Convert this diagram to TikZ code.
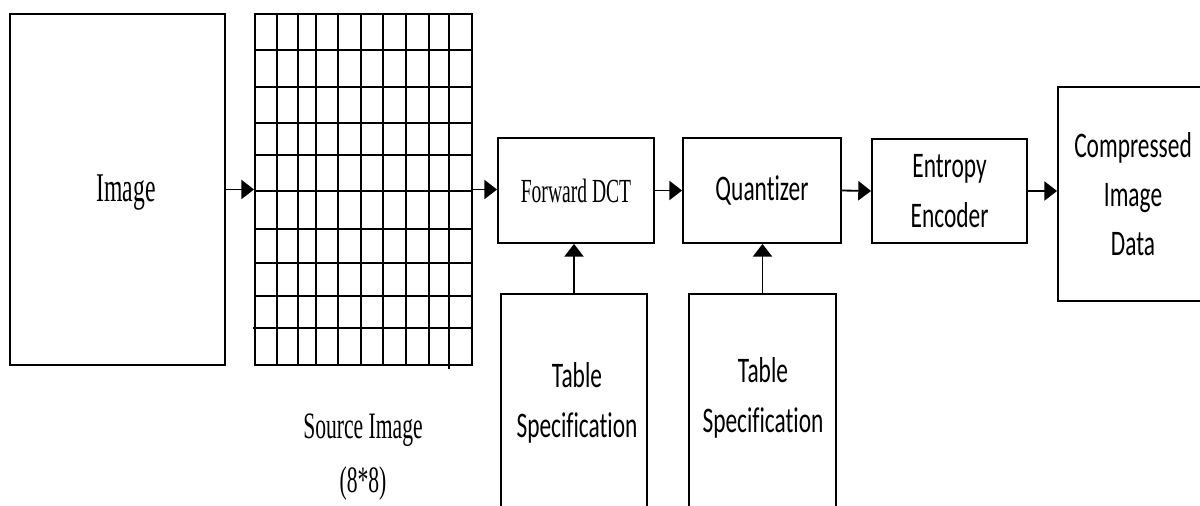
\documentclass[tikz,border=0pt]{standalone}
\usepackage{fontspec}
\usetikzlibrary{arrows.meta,calc}

\newfontfamily\jpgserif[FakeStretch=0.58]{Liberation Serif}
\newfontfamily\jpgsans[FakeStretch=0.65,Ligatures=NoCommon]{Carlito}

\tikzset{
	blk/.style={draw,line width=1.3pt,inner sep=0pt},
	gridline/.style={line width=1.3pt},
	flow/.style={line width=1.3pt,-{Triangle[length=0.32cm,width=0.48cm]}},
	serif/.style={font=\jpgserif\fontsize{24}{38.5}\selectfont,align=center},
	sans/.style={font=\jpgsans\fontsize{25.6}{35}\selectfont,align=center}
}

\begin{document}
\begin{tikzpicture}[x=0.025cm,y=-0.025cm]
			\useasboundingbox (0,0) rectangle (1200,505);
			\clip (0,0) rectangle (1200,505);

			\node[blk,minimum width=5.375cm,minimum height=8.775cm] (img) at (117.5,189.5) {};
			\node[font=\jpgserif\fontsize{29}{35}\selectfont] (imglbl) at (126,193) {Image};
			\node[blk,minimum width=5.425cm,minimum height=8.775cm] (src) at (363.5,189.5) {};
			\foreach \gx in {277,298,316,338,361,383,406,429}
				\draw[gridline] (\gx,14) -- (\gx,365);
			\draw[gridline] (449,14) -- (449,369);
			\foreach \gy in {50,87,123,155,191,229,263,296}
				\draw[gridline] (255,\gy) -- (472,\gy);
			\draw[gridline] (253,328) -- (472,328);
			\node[serif,font=\jpgserif\fontsize{26.5}{38.5}\selectfont] (srclbl) at (363,457) {Source Image\\(8*8)};

			\node[blk,serif,minimum width=3.9cm,minimum height=2.625cm] (fdct) at (576,190.5) {Forward DCT};
			\node[blk,sans,minimum width=3.95cm,minimum height=2.625cm] (quant) at (762,190.5) {Quantizer};
			\node[blk,sans,minimum width=3.875cm,minimum height=2.6cm] (ent) at (949.5,191) {Entropy\\Encoder};
			\node[blk,sans,minimum width=3.75cm,minimum height=5.35cm] (comp) at (1133,194) {Compressed\\Image\\Data};

			\node[blk,minimum width=3.65cm,minimum height=6.15cm] (tab1) at (574,417) {};
			\node[sans] (tab1lbl) at (577,403) {Table\\Specification};
			\node[blk,minimum width=3.675cm,minimum height=6.15cm] (tab2) at (762.5,417) {};
			\node[sans] (tab2lbl) at (763,398) {Table\\Specification};

			\draw[flow] (img.east) -- (src.west);
			\draw[flow] (src.east) -- (fdct.west |- src.east);
			\draw[flow] (fdct.east) -- (quant.west);
			\draw[flow] (quant.east) -- (ent.west);
			\draw[flow] (ent.east) -- (comp.west |- ent.east);
			\draw[flow] (tab1.north) -- (tab1.north |- fdct.south);
			\draw[flow] (tab2.north) -- (tab2.north |- quant.south);

			% \draw[help lines,step=50] (0,0) grid (1200,505);
		\end{tikzpicture}
\end{document}
